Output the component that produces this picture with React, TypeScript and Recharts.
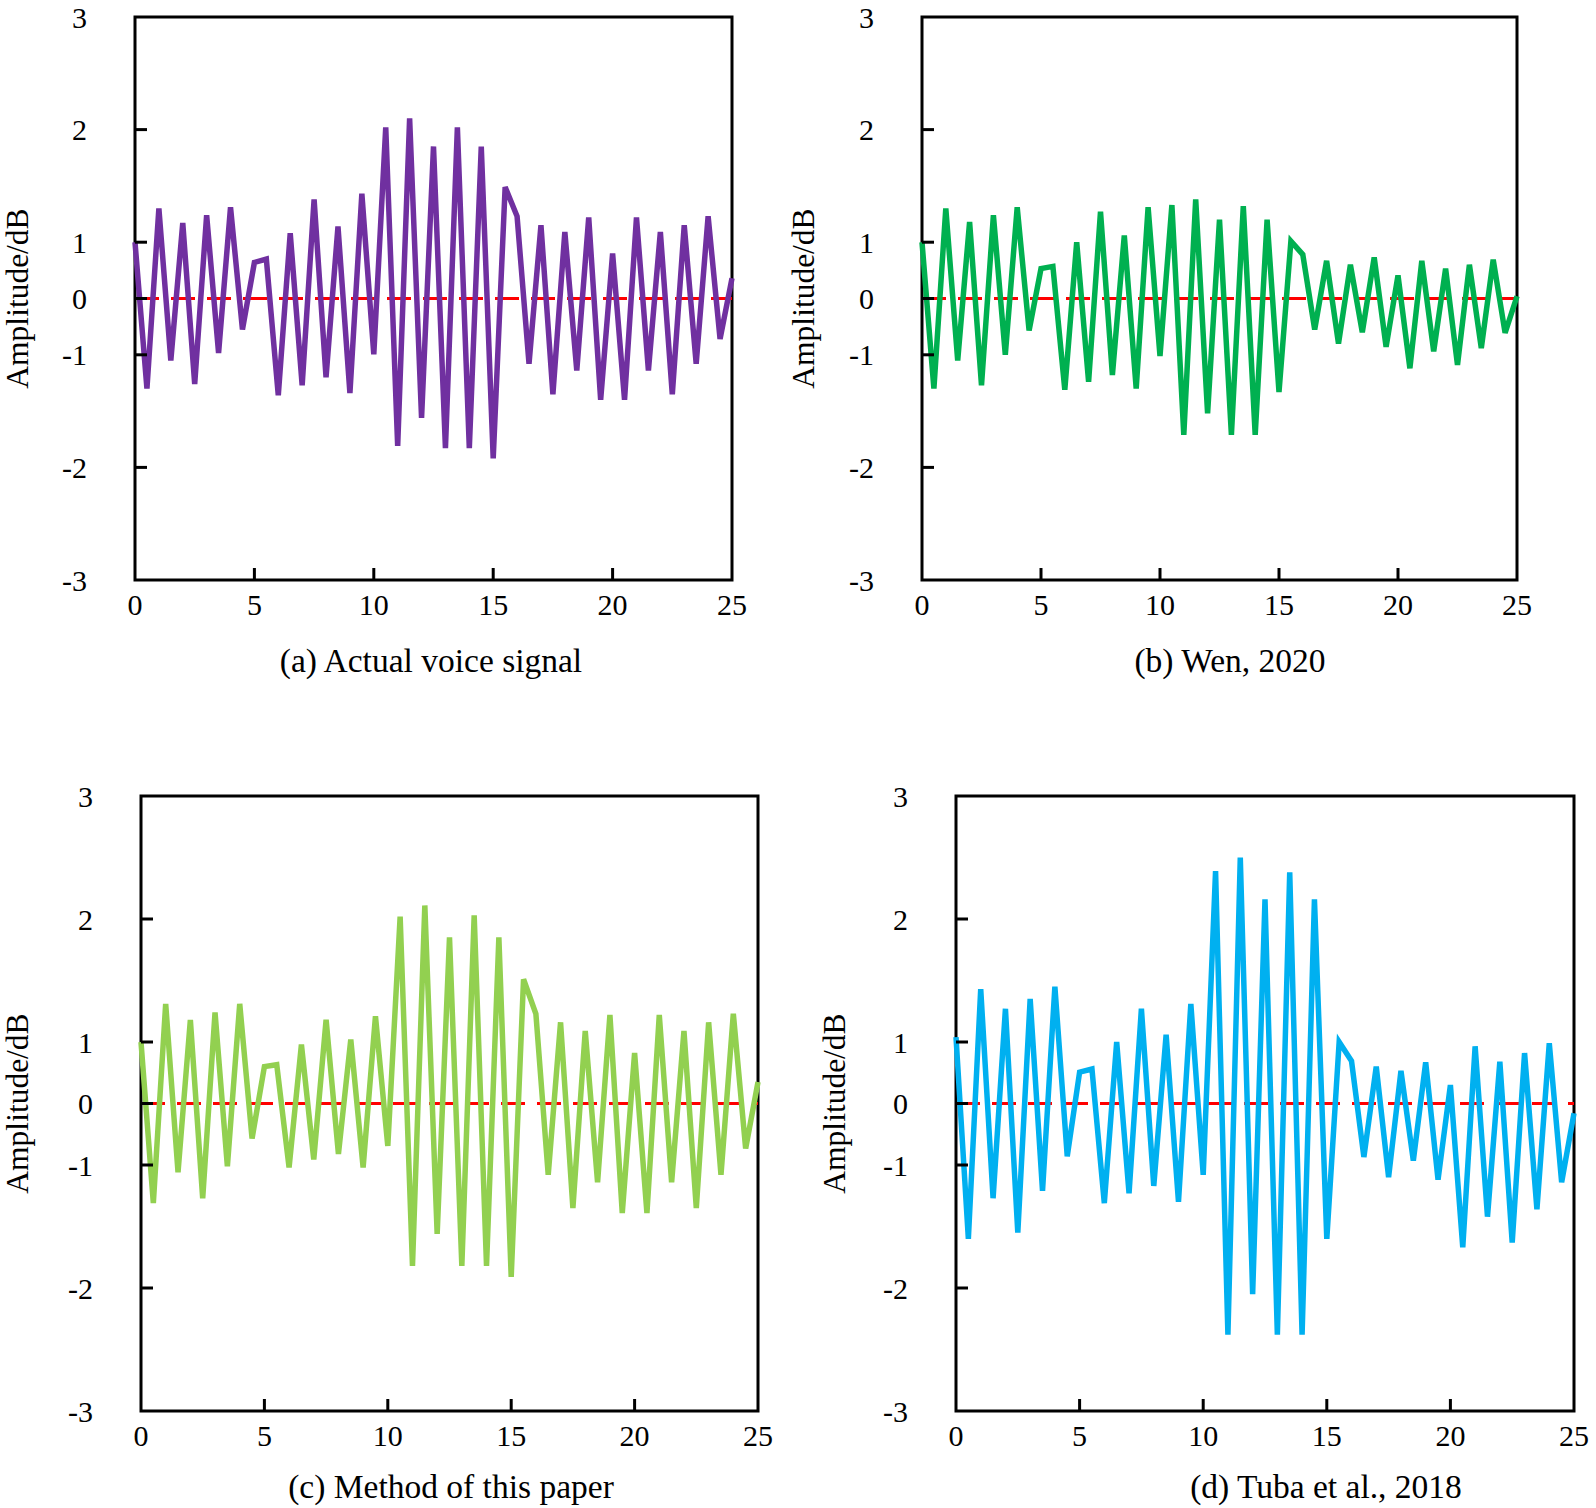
import { LineChart, Line, XAxis, YAxis, ReferenceLine, ReferenceArea } from "recharts";

// sample times (x axis), one point every 0.5
const timeSteps = [
  0, 0.5, 1, 1.5, 2, 2.5, 3, 3.5, 4, 4.5, 5, 5.5, 6, 6.5, 7, 7.5, 8, 8.5, 9, 9.5,
  10, 10.5, 11, 11.5, 12, 12.5, 13, 13.5, 14, 14.5, 15, 15.5, 16, 16.5, 17, 17.5,
  18, 18.5, 19, 19.5, 20, 20.5, 21, 21.5, 22, 22.5, 23, 23.5, 24, 24.5, 25,
];

// amplitude values, read in the units of the tick labels
const actualSignal = [
  1.0, -1.3, 1.3, -1.05, 1.17, -1.26, 1.24, -0.97, 1.31, -0.55, 0.64, 0.7, -1.36, 1.08, -1.27, 1.38, -1.2,
  1.14, -1.34, 1.43, -0.99, 2.02, -1.81, 2.1, -1.56, 1.85, -1.83, 2.02, -1.83, 1.85, -1.92, 1.49, 1.23,
  -1.08, 1.15, -1.35, 1.09, -1.14, 1.22, -1.4, 0.8, -1.4, 1.22, -1.14, 1.09, -1.35, 1.15, -1.08, 1.23,
  -0.72, 0.36,
];

const wen2020 = [
  1.0, -1.3, 1.3, -1.05, 1.18, -1.27, 1.24, -1.0, 1.31, -0.57, 0.53, 0.57, -1.31, 1.0, -1.24, 1.27, -1.18,
  1.06, -1.3, 1.31, -1.01, 1.33, -1.71, 1.38, -1.52, 1.2, -1.71, 1.32, -1.71, 1.2, -1.33, 1.01, 0.78,
  -0.55, 0.67, -0.8, 0.6, -0.6, 0.73, -0.86, 0.41, -1.12, 0.67, -0.94, 0.53, -1.09, 0.6, -0.88, 0.69,
  -0.61, 0.04,
];

const thisPaper = [
  1.0, -1.31, 1.31, -1.06, 1.18, -1.27, 1.24, -1.01, 1.31, -0.57, 0.6, 0.63, -1.02, 0.96, -0.91, 1.18, -0.82,
  1.02, -1.02, 1.21, -0.69, 2.02, -1.82, 2.11, -1.56, 1.85, -1.82, 2.03, -1.82, 1.85, -1.91, 1.51, 1.23,
  -1.08, 1.16, -1.35, 1.09, -1.14, 1.22, -1.39, 0.82, -1.39, 1.22, -1.14, 1.09, -1.35, 1.16, -1.08, 1.23,
  -0.73, 0.35,
];

const tuba2018 = [
  1.04, -1.6, 1.43, -1.27, 1.27, -1.55, 1.35, -1.21, 1.45, -0.86, 0.51, 0.56, -1.31, 1.0, -1.23, 1.27, -1.17,
  1.06, -1.3, 1.31, -1.08, 2.39, -2.38, 2.5, -2.05, 2.16, -2.38, 2.38, -2.38, 2.16, -1.6, 1.0, 0.69,
  -0.87, 0.6, -1.1, 0.53, -0.93, 0.67, -1.12, 0.3, -1.67, 0.93, -1.42, 0.68, -1.63, 0.82, -1.36, 0.98,
  -1.14, -0.16,
];

const xTicks = [0, 5, 10, 15, 20, 25];
const yTicks = [-3, -2, -1, 0, 1, 2, 3];

// the figure's y axis is not linear: -1..1 gets half the spacing of the outer steps
const toAxis = (v: number) => (v > 1 ? 6 + (v - 1) * 2 : v < -1 ? 4 + (v + 1) * 2 : 5 + v);
const fromAxis = (d: number) => (d > 6 ? 1 + (d - 6) / 2 : d < 4 ? -1 + (d - 4) / 2 : d - 5);

const FONT = '"Liberation Serif", "Times New Roman", serif';

const panels = [
  { caption: "(a) Actual voice signal", values: actualSignal, color: "#7030A0",
    left: 0, top: 0, l: 135, r: 732, t: 17, b: 580, labelX: 17, capX: 431, capY: 661 },
  { caption: "(b) Wen, 2020", values: wen2020, color: "#00B050",
    left: 780, top: 0, l: 922, r: 1517, t: 17, b: 580, labelX: 803, capX: 1230, capY: 661 },
  { caption: "(c) Method of this paper", values: thisPaper, color: "#92D050",
    left: 0, top: 700, l: 141, r: 758, t: 796, b: 1411, labelX: 17, capX: 451, capY: 1487 },
  { caption: "(d) Tuba et al., 2018", values: tuba2018, color: "#00B0F0",
    left: 780, top: 700, l: 956, r: 1574, t: 796, b: 1411, labelX: 834, capX: 1326, capY: 1487 },
];

const renderXTick = (props: any) => {
  const { x, y, payload } = props;
  const v = payload.value;
  return (
    <g>
      {v > 0 && v < 25 && <line x1={x} x2={x} y1={y} y2={y - 12} stroke="#000" strokeWidth={3} />}
      <text x={x} y={y + 24} textAnchor="middle" dominantBaseline="central" fontSize={30} fill="#000">
        {v}
      </text>
    </g>
  );
};

const renderYTick = (props: any) => {
  const { x, y, payload } = props;
  const d = payload.value;
  return (
    <g>
      {d > 0 && d < 10 && <line x1={x} x2={x + 12} y1={y} y2={y} stroke="#000" strokeWidth={3} />}
      <text x={x - 48} y={y} textAnchor="end" dominantBaseline="central" fontSize={30} fill="#000">
        {Math.round(fromAxis(d))}
      </text>
    </g>
  );
};

function Panel({ p }: { p: (typeof panels)[number] }) {
  const width = p.r + 20 - p.left;
  const height = p.b + 50 - p.top;
  const data = timeSteps.map((t, i) => ({ t, amp: toAxis(p.values[i]) }));
  return (
    <div style={{ position: "absolute", left: p.left, top: p.top }}>
      <LineChart
        width={width}
        height={height}
        data={data}
        margin={{ top: p.t - p.top, right: 20, bottom: 0, left: 0 }}
      >
        <XAxis
          dataKey="t"
          type="number"
          domain={[0, 25]}
          ticks={xTicks}
          interval={0}
          height={50}
          tickSize={0}
          tickMargin={0}
          axisLine={false}
          tickLine={false}
          tick={renderXTick}
        />
        <YAxis
          type="number"
          domain={[0, 10]}
          ticks={yTicks.map(toAxis)}
          interval={0}
          width={p.l - p.left}
          tickSize={0}
          tickMargin={0}
          axisLine={false}
          tickLine={false}
          tick={renderYTick}
          label={{
            value: "Amplitude/dB",
            angle: -90,
            position: "insideLeft",
            offset: p.labelX - p.left,
            style: { textAnchor: "middle", fontSize: 31.5, fill: "#000", fontFamily: FONT },
          }}
        />
        <ReferenceLine y={toAxis(0)} stroke="#FF0000" strokeWidth={3} strokeDasharray="24 12" />
        <Line
          type="linear"
          dataKey="amp"
          stroke={p.color}
          strokeWidth={5.5}
          dot={false}
          activeDot={false}
          isAnimationActive={false}
        />
        <ReferenceArea x1={0} x2={25} y1={0} y2={10} fill="none" stroke="#000" strokeWidth={3} />
      </LineChart>
    </div>
  );
}

export default function App() {
  return (
    <div
      style={{
        position: "absolute",
        left: 0,
        top: 0,
        width: 1596,
        height: 1508,
        background: "#fff",
        fontFamily: FONT,
        overflow: "hidden",
      }}
    >
      {panels.map((p) => (
        <Panel key={p.caption} p={p} />
      ))}
      {panels.map((p) => (
        <div
          key={"cap" + p.caption}
          style={{
            position: "absolute",
            left: p.capX,
            top: p.capY,
            transform: "translate(-50%, -50%)",
            fontSize: 33.5,
            whiteSpace: "nowrap",
            color: "#000",
          }}
        >
          {p.caption}
        </div>
      ))}
    </div>
  );
}
